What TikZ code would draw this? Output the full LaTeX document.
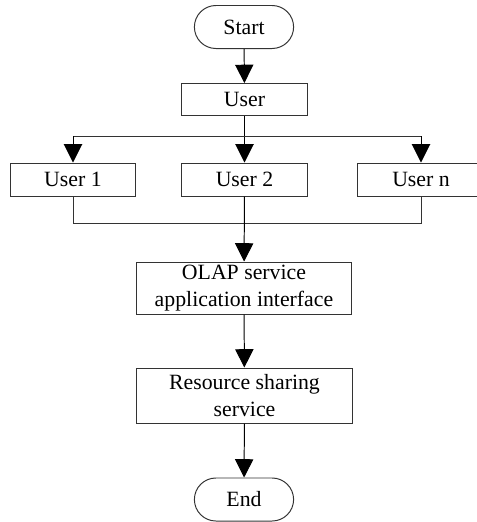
\documentclass[tikz,border=0pt]{standalone}
\usepackage{fontspec}
\setmainfont{Liberation Serif}
\usepackage{tikz}
\usetikzlibrary{arrows.meta,shapes.misc,positioning}

\begin{document}
\begin{tikzpicture}[x=0.025cm,y=-0.025cm,line width=0.7pt,
                    >={Triangle[length=13pt,width=13pt]},
                    box node/.style={rectangle,draw=black!80,inner sep=1pt,align=center,
                    font=\fontsize{15.5}{19}\selectfont},
                    end node/.style={rounded rectangle,draw=black!80,inner sep=1pt,
                    minimum width=2.55cm,minimum height=1.075cm,font=\fontsize{15.5}{19}\selectfont}]
\useasboundingbox (0,0) rectangle (476,522);

%DRAWING FLOW
  \node[end node] (Start) at (244,27) {Start};
  \node[box node,minimum width=3.125cm,minimum height=0.8cm] (User) at (244.5,99.5) {User};
  \node[box node,minimum width=3.1cm,minimum height=0.825cm] (User1) at (73,179.5) {User 1};
  \node[box node,minimum width=3.125cm,minimum height=0.825cm] (User2) at (244.5,179.5) {User 2};
  \node[box node,minimum width=3.15cm,minimum height=0.825cm] (UserN) at (421,179.5) {User n};
  \node[box node,minimum width=5.35cm,minimum height=1.3cm] (OLAP) at (244,288) {OLAP service\\application interface};
  \node[box node,minimum width=5.375cm,minimum height=1.375cm] (Sharing) at (244.5,395.5) {Resource sharing\\service};
  \node[end node] (End) at (244,499.5) {End};

%DRAWING BRANCHES
  \coordinate (Branch) at (244.5,136);
  \coordinate (Merge) at (244.5,223);

  \draw[->] (Start) -- (User);
  \draw[->] (User) -- (User2);
  \draw[black!80] (Branch -| User1) -- (Branch -| UserN);
  \draw[->] (Branch -| User1) -- (User1);
  \draw[->] (Branch -| UserN) -- (UserN);

  \draw[black!80] (User1) -- (Merge -| User1) -- (Merge -| UserN) -- (UserN);
  \draw[->] (User2) -- (OLAP);
  \draw[->] (OLAP) -- (Sharing);
  \draw[->] (Sharing) -- (End);

\end{tikzpicture}
\end{document}
